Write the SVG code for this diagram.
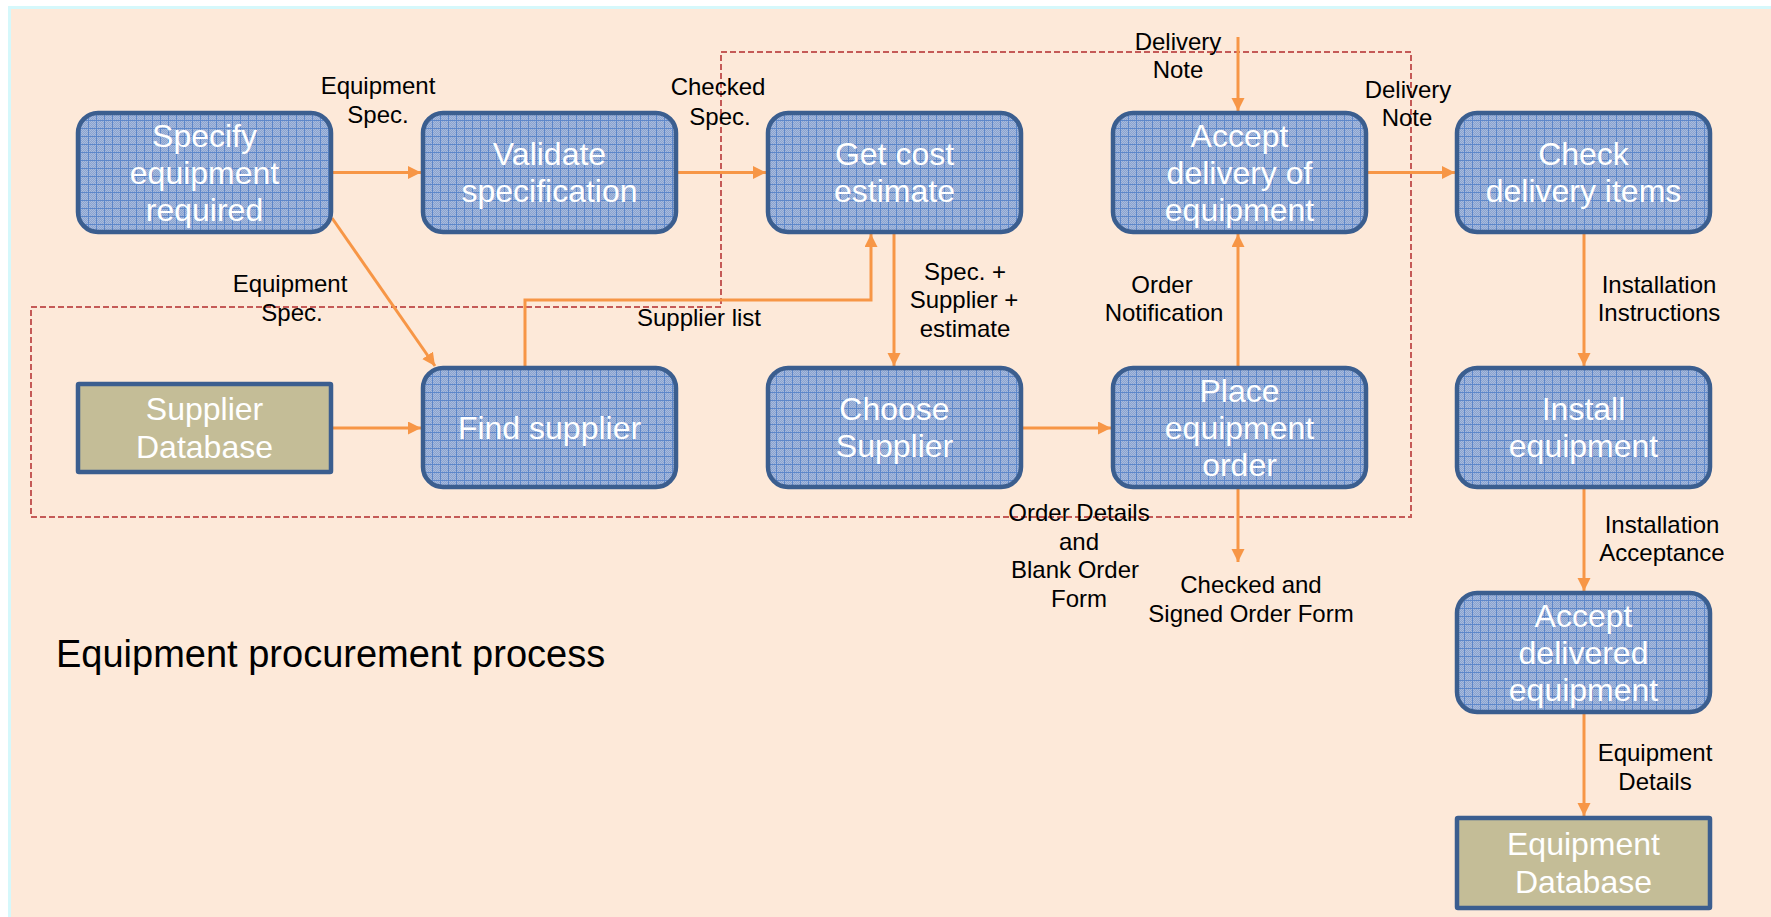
<svg xmlns="http://www.w3.org/2000/svg" width="1771" height="917" viewBox="0 0 1771 917">
<defs>
<pattern id="dots" width="2" height="2" patternUnits="userSpaceOnUse">
<rect width="2" height="2" fill="#8AA3D0"/>
<rect width="1" height="1" fill="#A8BBDD"/>
<rect x="1" y="1" width="1" height="1" fill="#A8BBDD"/>
</pattern>
<pattern id="grid" width="8" height="8" patternUnits="userSpaceOnUse">
<rect width="8" height="8" fill="url(#dots)"/>
<rect width="8" height="1" fill="#5D87CA"/>
<rect width="1" height="8" fill="#5D87CA"/>
</pattern>
<marker id="arr" markerUnits="userSpaceOnUse" markerWidth="14" markerHeight="14" refX="13" refY="6.5" orient="auto">
<path d="M0,0 L13,6.5 L0,13 Z" fill="#F79646"/>
</marker>
<style>
.proc rect{fill:url(#grid);stroke:#3B5E8F;stroke-width:4.5}
.db rect{fill:#C4BD97;stroke:#3B5E8F;stroke-width:4.5}
.nt{font-family:"Liberation Sans",Arial,sans-serif;font-size:32px;fill:#FFFFFF;text-anchor:middle}
.lb{font-family:"Liberation Sans",Arial,sans-serif;font-size:24px;fill:#000000;text-anchor:middle}
.conn path{fill:none;stroke:#F79646;stroke-width:3}
.arrow{marker-end:url(#arr)}
</style>
</defs>
<rect width="1771" height="917" fill="#FFFFFF"/>
<rect x="9.5" y="7.5" width="1800" height="1000" fill="#FDE9D9" stroke="#D5F8FB" stroke-width="3"/>

<polygon points="31,307 721,307 721,52 1411,52 1411,517 31,517" fill="none" stroke="#C55A57" stroke-width="2" stroke-dasharray="6,3"/>

<g id="connectors" class="conn">
<path class="arrow" d="M331,172.5 H421"/>
<path class="arrow" d="M677,172.5 H766"/>
<path class="arrow" d="M1367,172.5 H1455"/>
<path class="arrow" d="M332,218 L435,366"/>
<path class="arrow" d="M331,428 H421"/>
<path class="arrow" d="M525,366 V300 H871 V234"/>
<path class="arrow" d="M894,234 V366"/>
<path class="arrow" d="M1021,428 H1111"/>
<path class="arrow" d="M1238,366 V234"/>
<path class="arrow" d="M1238,37 V111"/>
<path class="arrow" d="M1238,489 V562"/>
<path class="arrow" d="M1584,234 V366"/>
<path class="arrow" d="M1584,489 V591"/>
<path class="arrow" d="M1584,714 V816"/>
</g>

<g id="labels" class="lb">
<text><tspan x="378" y="94">Equipment</tspan><tspan x="378" y="123">Spec.</tspan></text>
<text><tspan x="718" y="95">Checked</tspan><tspan x="720" y="125">Spec.</tspan></text>
<text><tspan x="290" y="292">Equipment</tspan><tspan x="292" y="321">Spec.</tspan></text>
<text x="699" y="326">Supplier list</text>
<text><tspan x="965" y="280">Spec. +</tspan><tspan x="964" y="308">Supplier +</tspan><tspan x="965" y="337">estimate</tspan></text>
<text><tspan x="1162" y="293">Order</tspan><tspan x="1164" y="321">Notification</tspan></text>
<text><tspan x="1178" y="50">Delivery</tspan><tspan x="1178" y="78">Note</tspan></text>
<text><tspan x="1408" y="98">Delivery</tspan><tspan x="1407" y="126">Note</tspan></text>
<text><tspan x="1659" y="293">Installation</tspan><tspan x="1659" y="321">Instructions</tspan></text>
<text><tspan x="1662" y="533">Installation</tspan><tspan x="1662" y="561">Acceptance</tspan></text>
<text><tspan x="1655" y="761">Equipment</tspan><tspan x="1655" y="790">Details</tspan></text>
<text><tspan x="1079" y="521">Order Details</tspan><tspan x="1079" y="550">and</tspan><tspan x="1075" y="578">Blank Order</tspan><tspan x="1079" y="607">Form</tspan></text>
<text><tspan x="1251" y="593">Checked and</tspan><tspan x="1251" y="622">Signed Order Form</tspan></text>
</g>

<g id="n-specify" class="proc"><rect x="78" y="113" width="253" height="119" rx="20"/>
<text class="nt"><tspan x="204.5" y="147">Specify</tspan><tspan x="204.5" y="184">equipment</tspan><tspan x="204.5" y="221">required</tspan></text></g>
<g id="n-validate" class="proc"><rect x="423" y="113" width="253" height="119" rx="20"/>
<text class="nt"><tspan x="549.5" y="165">Validate</tspan><tspan x="549.5" y="202">specification</tspan></text></g>
<g id="n-getcost" class="proc"><rect x="768" y="113" width="253" height="119" rx="20"/>
<text class="nt"><tspan x="894.5" y="165">Get cost</tspan><tspan x="894.5" y="202">estimate</tspan></text></g>
<g id="n-acceptdelivery" class="proc"><rect x="1113" y="113" width="253" height="119" rx="20"/>
<text class="nt"><tspan x="1239.5" y="147">Accept</tspan><tspan x="1239.5" y="184">delivery of</tspan><tspan x="1239.5" y="221">equipment</tspan></text></g>
<g id="n-check" class="proc"><rect x="1457" y="113" width="253" height="119" rx="20"/>
<text class="nt"><tspan x="1583.5" y="165">Check</tspan><tspan x="1583.5" y="202">delivery items</tspan></text></g>

<g id="n-supplierdb" class="db"><rect x="78" y="384" width="253" height="88" rx="1"/>
<text class="nt"><tspan x="204.5" y="420">Supplier</tspan><tspan x="204.5" y="458">Database</tspan></text></g>
<g id="n-findsupplier" class="proc"><rect x="423" y="368" width="253" height="119" rx="20"/>
<text class="nt"><tspan x="549.5" y="439">Find supplier</tspan></text></g>
<g id="n-choose" class="proc"><rect x="768" y="368" width="253" height="119" rx="20"/>
<text class="nt"><tspan x="894.5" y="420">Choose</tspan><tspan x="894.5" y="457">Supplier</tspan></text></g>
<g id="n-placeorder" class="proc"><rect x="1113" y="368" width="253" height="119" rx="20"/>
<text class="nt"><tspan x="1239.5" y="402">Place</tspan><tspan x="1239.5" y="439">equipment</tspan><tspan x="1239.5" y="476">order</tspan></text></g>
<g id="n-install" class="proc"><rect x="1457" y="368" width="253" height="119" rx="20"/>
<text class="nt"><tspan x="1583.5" y="420">Install</tspan><tspan x="1583.5" y="457">equipment</tspan></text></g>

<g id="n-acceptdelivered" class="proc"><rect x="1457" y="593" width="253" height="119" rx="20"/>
<text class="nt"><tspan x="1583.5" y="627">Accept</tspan><tspan x="1583.5" y="664">delivered</tspan><tspan x="1583.5" y="701">equipment</tspan></text></g>
<g id="n-equipmentdb" class="db"><rect x="1457" y="818" width="253" height="90" rx="1"/>
<text class="nt"><tspan x="1583.5" y="855">Equipment</tspan><tspan x="1583.5" y="893">Database</tspan></text></g>

<text id="title" x="56" y="667" font-family="'Liberation Sans',Arial,sans-serif" font-size="38" fill="#000000">Equipment procurement process</text>
</svg>
